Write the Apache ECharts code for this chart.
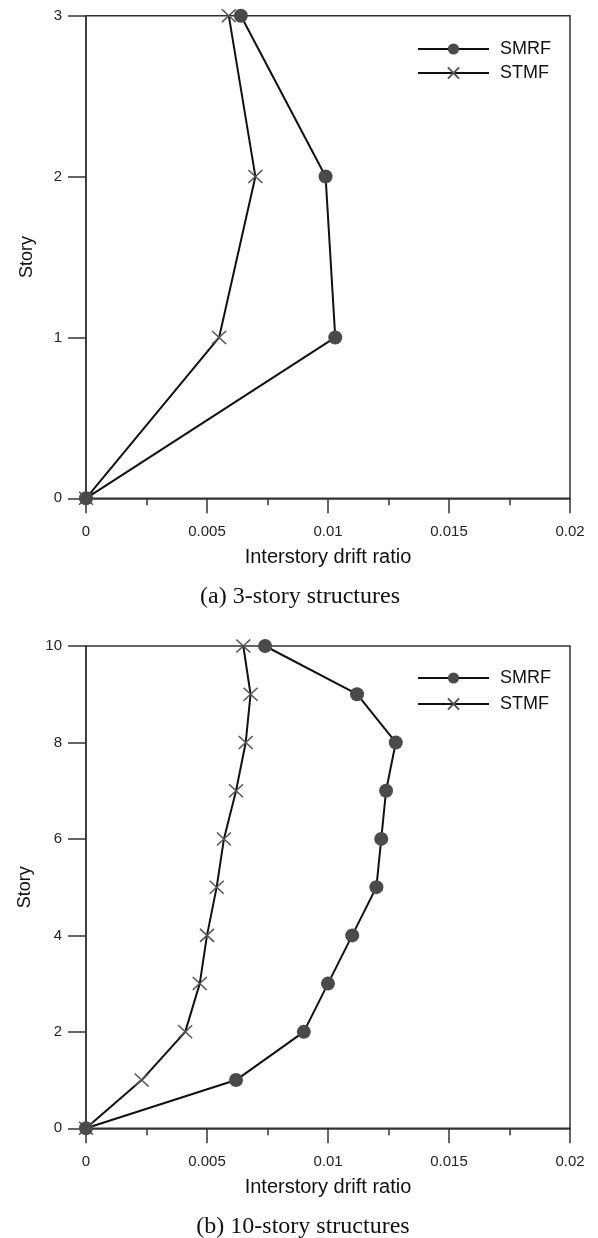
<!DOCTYPE html>
<html>
<head>
<meta charset="utf-8">
<style>
  html, body { margin: 0; padding: 0; background: #fff; }
  #chart { width: 598px; height: 1238px; }
</style>
<script src="https://cdn.jsdelivr.net/npm/echarts@6/dist/echarts.min.js"></script>
</head>
<body>
<div id="chart"></div>
<script>
// Interstory drift ratio per story, 3-story frames
const stories3 = [0, 1, 2, 3];
const smrf3 = [0, 0.0103, 0.0099, 0.0064];
const stmf3 = [0, 0.0055, 0.0070, 0.0059];

// Interstory drift ratio per story, 10-story frames
const stories10 = [0, 1, 2, 3, 4, 5, 6, 7, 8, 9, 10];
const smrf10 = [0, 0.0062, 0.0090, 0.0100, 0.0110, 0.0120, 0.0122, 0.0124, 0.0128, 0.0112, 0.0074];
const stmf10 = [0, 0.0023, 0.0041, 0.0047, 0.0050, 0.0054, 0.0057, 0.0062, 0.0066, 0.0068, 0.0065];

const xTickLabels = ['0', '0.005', '0.01', '0.015', '0.02'];
const seriesNames = ['SMRF', 'STMF'];
const xTitle = 'Interstory drift ratio';
const yTitle = 'Story';
const captions = ['(a) 3-story structures', '(b) 10-story structures'];

const SANS = '"Liberation Sans", Arial, sans-serif';
const SERIF = '"Liberation Serif", "Times New Roman", serif';
const AXIS = '#333';
const crossPath = 'path://M0,0L12,11M12,0L0,11';

const pairs = (xs, ys) => xs.map((v, i) => [v, ys[i]]);

function xAxisFor(grid) {
  return {
    type: 'value', gridIndex: grid, min: 0, max: 0.02, interval: 0.005,
    name: xTitle, nameLocation: 'middle', nameGap: 49,
    nameTextStyle: { fontFamily: SANS, fontSize: 20, color: '#111' },
    axisLine: { show: true, onZero: false, lineStyle: { color: AXIS, width: 1.5 } },
    axisTick: { show: true, inside: false, length: 15, lineStyle: { color: AXIS, width: 1.5 } },
    minorTick: { show: true, splitNumber: 2, length: 7, lineStyle: { color: AXIS, width: 1.5 } },
    splitLine: { show: false },
    axisLabel: {
      margin: 26, fontFamily: SANS, fontSize: 15, color: '#222',
      formatter: (v) => xTickLabels[Math.round(v / 0.005)]
    }
  };
}

function yAxisFor(grid, max, step) {
  return {
    type: 'value', gridIndex: grid, min: 0, max: max, interval: step,
    name: yTitle, nameLocation: 'middle', nameGap: 50, nameRotate: 90,
    nameTextStyle: { fontFamily: SANS, fontSize: 18, color: '#111' },
    axisLine: { show: true, onZero: false, lineStyle: { color: AXIS, width: 1.5 } },
    axisTick: { show: true, inside: false, length: 18, lineStyle: { color: AXIS, width: 1.5 } },
    splitLine: { show: false },
    axisLabel: { margin: 24, fontFamily: SANS, fontSize: 15, color: '#222' }
  };
}

function smrfSeries(grid, data) {
  return {
    name: 'SMRF', type: 'line', xAxisIndex: grid, yAxisIndex: grid,
    data: data, clip: false, z: 3,
    symbol: 'circle', symbolSize: 14,
    itemStyle: { color: '#4a4a4a' },
    lineStyle: { color: '#111', width: 2 },
    emphasis: { disabled: true }
  };
}

function stmfSeries(grid, data) {
  return {
    name: 'STMF', type: 'line', xAxisIndex: grid, yAxisIndex: grid,
    data: data, clip: false, z: 2,
    symbol: crossPath, symbolSize: [14, 13],
    itemStyle: { color: '#555', borderColor: '#555', borderWidth: 1.5 },
    lineStyle: { color: '#111', width: 2 },
    emphasis: { disabled: true }
  };
}

function legendFor(top, gap) {
  return {
    data: seriesNames, orient: 'vertical', left: 417, top: top,
    padding: 0,
    itemWidth: 71, itemHeight: 14, itemGap: gap,
    selectedMode: false,
    textStyle: { fontFamily: SANS, fontSize: 18, color: '#111', padding: [0, 0, 0, 6] }
  };
}

const chart = echarts.init(document.getElementById('chart'), null, { renderer: 'canvas' });

chart.setOption({
  animation: false,
  backgroundColor: '#fff',
  grid: [
    { left: 86, right: 28, top: 15.7, height: 482.6, show: true, borderColor: AXIS, borderWidth: 1.5, backgroundColor: 'transparent' },
    { left: 86, right: 28, top: 646, height: 482.3, show: true, borderColor: AXIS, borderWidth: 1.5, backgroundColor: 'transparent' }
  ],
  xAxis: [xAxisFor(0), xAxisFor(1)],
  yAxis: [yAxisFor(0, 3, 1), yAxisFor(1, 10, 2)],
  legend: [legendFor(40, 6), legendFor(669, 8)],
  series: [
    stmfSeries(0, pairs(stmf3, stories3)),
    smrfSeries(0, pairs(smrf3, stories3)),
    stmfSeries(1, pairs(stmf10, stories10)),
    smrfSeries(1, pairs(smrf10, stories10))
  ],
  graphic: [
    { type: 'text', x: 300, y: 597, style: { text: captions[0], font: '24px ' + SERIF, fill: '#111', textAlign: 'center', textVerticalAlign: 'middle' } },
    { type: 'text', x: 303, y: 1227, style: { text: captions[1], font: '24px ' + SERIF, fill: '#111', textAlign: 'center', textVerticalAlign: 'middle' } }
  ]
});
</script>
</body>
</html>
